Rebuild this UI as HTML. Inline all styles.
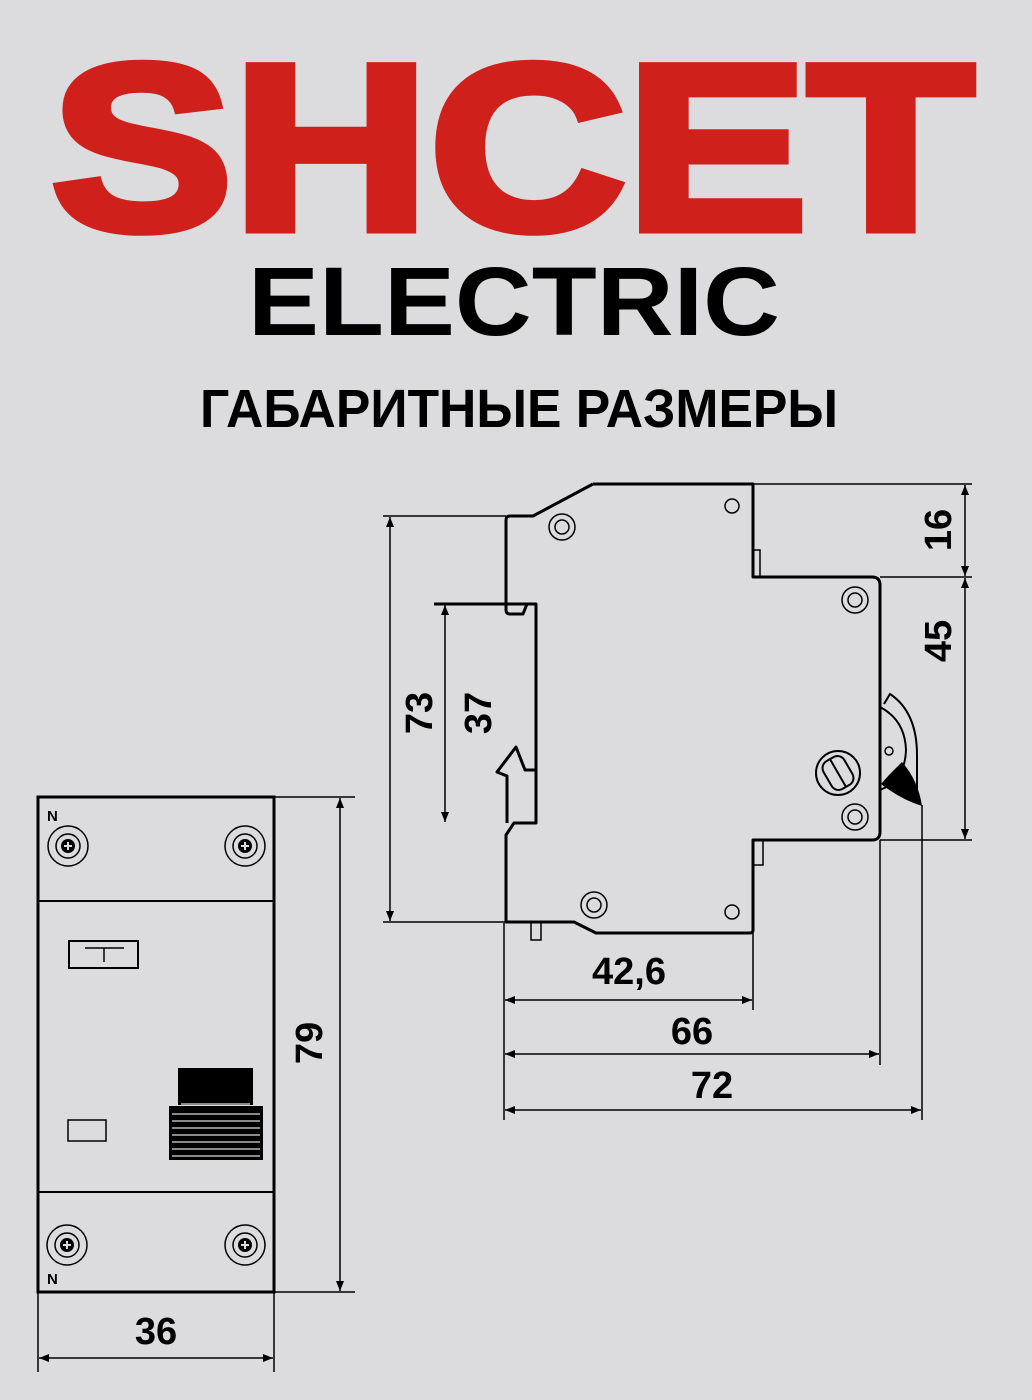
<!DOCTYPE html>
<html><head><meta charset="utf-8"><style>
html,body{margin:0;padding:0;background:#dcdcde;}
svg{display:block}
text{font-family:"Liberation Sans",sans-serif;font-weight:bold}
</style></head><body>
<svg width="1032" height="1400" viewBox="0 0 1032 1400" xmlns="http://www.w3.org/2000/svg">
<defs>
<marker id="a" viewBox="0 0 10 10" refX="10" refY="5" markerWidth="14" markerHeight="10" orient="auto-start-reverse" markerUnits="userSpaceOnUse"><path d="M0,1 L10,5 L0,9 z" fill="#000"/></marker>
</defs>
<rect width="1032" height="1400" fill="#dcdcde"/>
<text x="51" y="229" font-size="236" fill="#d0201c" stroke="#d0201c" stroke-width="9" stroke-linejoin="miter" textLength="923" lengthAdjust="spacingAndGlyphs">SHCET</text>
<text x="248" y="335" font-size="97" fill="#000" textLength="532" lengthAdjust="spacingAndGlyphs">ELECTRIC</text>
<text x="200" y="427" font-size="54" fill="#000" textLength="638" lengthAdjust="spacingAndGlyphs">ГАБАРИТНЫЕ РАЗМЕРЫ</text>

<g fill="none" stroke="#000" stroke-width="3" stroke-linejoin="round">
<path d="M593,484 L753,484 L753,577 L872,577 Q880,577 880,585 L880,832 Q880,840 872,840 L753,840 L753,930 Q753,933 750,933 L596,933 L574,922 L506,922 L506,835 L514,823 L536,823 L536,770 L525,770 L516,747 L497,772 L507,776 L507,823"/>
<path d="M536,770 L536,604 L434,604"/>
<path d="M593,484 L533,516 L510,516 Q506,516 506,520 L506,610 Q506,614 510,614 L523,614 L527,604"/>
</g>
<g fill="none" stroke="#000" stroke-width="1.5">
<rect x="753" y="550" width="7" height="27"/>
<rect x="753" y="840" width="10" height="25"/>
<rect x="531" y="922" width="10" height="18"/>
<circle cx="562" cy="527" r="13"/><circle cx="562" cy="527" r="7"/>
<circle cx="855" cy="600" r="13"/><circle cx="855" cy="600" r="7"/>
<circle cx="855" cy="817" r="13"/><circle cx="855" cy="817" r="7"/>
<circle cx="594" cy="905" r="13"/><circle cx="594" cy="905" r="7"/>
<circle cx="732" cy="506" r="7"/><circle cx="732" cy="912" r="7"/>
<circle cx="838" cy="773" r="22" stroke-width="2"/>
<g transform="rotate(-30 838 773)"><rect x="826" y="757" width="24" height="32" rx="8" stroke-width="2"/><line x1="838" y1="757" x2="838" y2="789" stroke-width="2"/></g>
<path d="M880,707 Q905,720 906,750 Q905,780 880,790" stroke-width="2"/>
<path d="M884,704 L890,694 Q917,712 917,755 L917,790" stroke-width="2"/>
<circle cx="889" cy="751" r="4"/>
<line x1="383" y1="516" x2="506" y2="516"/>
<line x1="383" y1="922" x2="506" y2="922"/>
<line x1="753" y1="484" x2="972" y2="484"/>
<line x1="880" y1="577" x2="972" y2="577"/>
<line x1="880" y1="840" x2="972" y2="840"/>
<line x1="504" y1="923" x2="504" y2="1120"/>
<line x1="753" y1="933" x2="753" y2="1010"/>
<line x1="880" y1="840" x2="880" y2="1065"/>
<line x1="922" y1="805" x2="922" y2="1120"/>
</g>
<path d="M881,784 L889,775 L902,762 Q918,780 922,806 Q902,800 881,784 z" fill="#000"/>
<g stroke="#000" stroke-width="1.5" marker-start="url(#a)" marker-end="url(#a)">
<line x1="390" y1="517" x2="390" y2="921"/>
<line x1="445" y1="605" x2="445" y2="822"/>
<line x1="965" y1="485" x2="965" y2="576"/>
<line x1="965" y1="578" x2="965" y2="839"/>
<line x1="505" y1="1000" x2="752" y2="1000"/>
<line x1="505" y1="1054" x2="879" y2="1054"/>
<line x1="505" y1="1110" x2="921" y2="1110"/>
<line x1="340" y1="798" x2="340" y2="1291"/>
<line x1="39" y1="1358" x2="273" y2="1358"/>
</g>
<g font-size="38" fill="#000">
<text transform="translate(432 713) rotate(-90)" text-anchor="middle">73</text>
<text transform="translate(491 713) rotate(-90)" text-anchor="middle">37</text>
<text transform="translate(951 530) rotate(-90)" text-anchor="middle">16</text>
<text transform="translate(951 641) rotate(-90)" text-anchor="middle">45</text>
<text transform="translate(322 1043) rotate(-90)" text-anchor="middle">79</text>
<text x="629" y="984" text-anchor="middle">42,6</text>
<text x="692" y="1044" text-anchor="middle">66</text>
<text x="712" y="1098" text-anchor="middle">72</text>
<text x="156" y="1344" text-anchor="middle">36</text>
</g>

<g fill="none" stroke="#000">
<rect x="38" y="797" width="236" height="495" stroke-width="3"/>
<line x1="38" y1="901" x2="274" y2="901" stroke-width="2"/>
<line x1="38" y1="1192" x2="274" y2="1192" stroke-width="2"/>
<line x1="274" y1="797" x2="355" y2="797" stroke-width="1.5"/>
<line x1="274" y1="1292" x2="355" y2="1292" stroke-width="1.5"/>
<line x1="38" y1="1292" x2="38" y2="1372" stroke-width="1.5"/>
<line x1="274" y1="1292" x2="274" y2="1372" stroke-width="1.5"/>
<rect x="69" y="941" width="69" height="27" stroke-width="2"/>
<path d="M85,948 H124 M104,948 V962" stroke-width="1.5"/>
<rect x="68" y="1120" width="38" height="21" stroke-width="1.5"/>
<g stroke-width="1.5">
<circle cx="68" cy="846" r="20"/><circle cx="68" cy="846" r="12"/>
<circle cx="245" cy="846" r="20"/><circle cx="245" cy="846" r="12"/>
<circle cx="67" cy="1245" r="20"/><circle cx="67" cy="1245" r="12"/>
<circle cx="245" cy="1245" r="20"/><circle cx="245" cy="1245" r="12"/>
</g>
</g>
<g fill="#000">
<circle cx="68" cy="846" r="7"/><circle cx="245" cy="846" r="7"/><circle cx="67" cy="1245" r="7"/><circle cx="245" cy="1245" r="7"/>
<rect x="178" y="1068" width="75" height="37"/>
<rect x="169" y="1106" width="94" height="54"/>
</g>
<g stroke="#dcdcde" stroke-width="2">
<path d="M64,846 h8 M68,842 v8 M241,846 h8 M245,842 v8 M63,1245 h8 M67,1241 v8 M241,1245 h8 M245,1241 v8"/>
</g>
<g stroke="#dcdcde" stroke-width="1.2">
<line x1="181" y1="1104" x2="250" y2="1104"/>
<line x1="172" y1="1114" x2="260" y2="1114"/><line x1="172" y1="1121" x2="260" y2="1121"/>
<line x1="172" y1="1128" x2="260" y2="1128"/><line x1="172" y1="1135" x2="260" y2="1135"/>
<line x1="172" y1="1142" x2="260" y2="1142"/><line x1="172" y1="1149" x2="260" y2="1149"/>
<line x1="172" y1="1156" x2="260" y2="1156"/>
</g>
<g font-size="15" fill="#000">
<text x="47" y="821">N</text>
<text x="47" y="1284">N</text>
</g>
</svg>
</body></html>
